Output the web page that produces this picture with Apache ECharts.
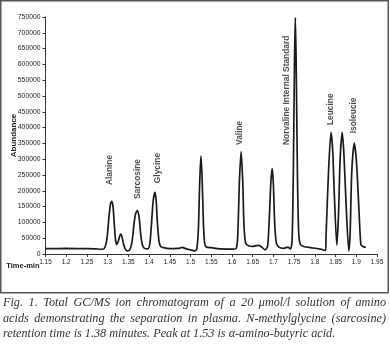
<!DOCTYPE html>
<html>
<head>
<meta charset="utf-8">
<script src="https://cdn.jsdelivr.net/npm/echarts@6/dist/echarts.min.js"></script>
<style>
html,body{margin:0;padding:0;background:#fff;}
#wrap{position:relative;width:390px;height:353px;overflow:hidden;}
#chart{position:absolute;left:0;top:0;width:390px;height:353px;}
.cap{position:absolute;left:3px;width:383px;font-family:"Liberation Serif",serif;font-style:italic;font-size:12.2px;color:#333;white-space:nowrap;line-height:15px;}
.j{text-align:justify;text-align-last:justify;white-space:normal;}
</style>
</head>
<body>
<div id="wrap">
<div id="chart"></div>
<div class="cap j" style="top:295px;">Fig. 1. Total GC/MS ion chromatogram of a 20 μmol/l solution of amino</div>
<div class="cap j" style="top:311px;">acids demonstrating the separation in plasma. N-methylglycine (sarcosine)</div>
<div class="cap" style="top:326px;">retention time is 1.38 minutes. Peak at 1.53 is α-amino-butyric acid.</div>
</div>
<script>
// Retention times (min) and abundance
const times = [1.150,1.200,1.250,1.270,1.285,1.292,1.298,1.303,1.307,1.310,1.313,1.316,1.319,1.322,1.326,1.330,1.332,1.335,1.339,1.344,1.349,1.354,1.359,1.364,1.368,1.372,1.376,1.380,1.384,1.390,1.397,1.402,1.406,1.410,1.414,1.417,1.420,1.424,1.428,1.435,1.450,1.470,1.480,1.488,1.500,1.510,1.515,1.519,1.522,1.525,1.528,1.531,1.534,1.538,1.550,1.570,1.600,1.610,1.614,1.618,1.622,1.626,1.629,1.633,1.640,1.650,1.662,1.670,1.680,1.686,1.690,1.694,1.697,1.700,1.703,1.707,1.714,1.725,1.735,1.741,1.745,1.748,1.751,1.753,1.755,1.758,1.761,1.765,1.775,1.790,1.810,1.826,1.827,1.833,1.839,1.843,1.847,1.853,1.857,1.861,1.866,1.870,1.875,1.882,1.885,1.889,1.895,1.900,1.905,1.911,1.916,1.923];
const abundance = [17000,17500,17000,16500,15000,18000,45000,115000,160000,167000,150000,95000,45000,30000,42000,60000,63000,52000,28000,13000,10000,15000,40000,100000,130000,137000,115000,60000,28000,17000,16000,35000,100000,170000,195000,170000,100000,40000,24000,20000,17000,17500,21000,17000,13000,10000,15000,80000,220000,310000,240000,100000,35000,22000,20000,16000,15500,17000,60000,230000,324000,230000,90000,35000,26000,24000,27000,24000,13000,25000,110000,230000,270000,220000,100000,35000,21000,18000,22000,16000,40000,250000,620000,748000,600000,250000,70000,30000,23000,20000,16000,11000,55000,260000,385000,330000,190000,28000,120000,300000,385000,320000,170000,9500,60000,256000,351000,300000,180000,30000,24000,21000];

// Peak annotations: name, time of label, abundance at label base
const peakNames = ["Alanine","Sarcosine","Glycine","Valine","Norvaline Internal Standard","Leucine","Isoleucie"];
const peakLabelTimes = [1.3044,1.3725,1.4203,1.618,1.7328,1.8377,1.8944];
const peakLabelValues = [218000,174000,224000,345000,345000,408000,382000];

// Axis ticks
const xMin = 1.15, xMax = 1.95, xStep = 0.05;
const yMin = 0, yMax = 750000, yStep = 50000;

const lineData = times.map((t,i)=>[t, abundance[i]]);
const labelData = peakNames.map((n,i)=>({value:[peakLabelTimes[i], peakLabelValues[i]], name:n}));

const chart = echarts.init(document.getElementById('chart'), null, {renderer:'canvas'});
chart.setOption({
  animation:false,
  backgroundColor:'#fff',
  grid:{left:45.5, right:13, top:17, bottom:99, containLabel:false, outerBoundsMode:'none'},
  xAxis:{
    type:'value', min:xMin, max:xMax, interval:xStep,
    name:'Time-min', nameLocation:'start', nameGap:0, nameMoveOverlap:false,
    nameTextStyle:{fontFamily:'Liberation Sans', fontSize:7.5, fontWeight:'bold', color:'#222', padding:[8,6,0,0], align:'right', verticalAlign:'top'},
    axisLine:{lineStyle:{color:'#333', width:1}},
    axisTick:{show:true, length:3, lineStyle:{color:'#333'}},
    axisLabel:{fontFamily:'Liberation Sans', fontSize:6.5, color:'#222', margin:5,
      formatter:v=>String(Math.round(v*100)/100)},
    splitLine:{show:false}
  },
  yAxis:{
    type:'value', min:yMin, max:yMax, interval:yStep,
    name:'Abundance', nameLocation:'middle', nameGap:27.5, nameMoveOverlap:false,
    nameTextStyle:{fontFamily:'Liberation Sans', fontSize:8, fontWeight:'bold', color:'#222'},
    axisLine:{show:true, lineStyle:{color:'#333', width:1}},
    axisTick:{show:true, length:3, lineStyle:{color:'#333'}},
    axisLabel:{fontFamily:'Liberation Sans', fontSize:6.8, color:'#222', margin:5,
      formatter:v=>String(v)},
    splitLine:{show:false}
  },
  series:[
    {type:'line', data:lineData, showSymbol:false, smooth:0.25,
     lineStyle:{color:'#1a1a1a', width:1.7}, silent:true, z:3},
    {type:'scatter', data:labelData, symbolSize:0, silent:true, z:4,
     label:{show:true, position:'inside', rotate:90, align:'left', verticalAlign:'middle',
       formatter:p=>p.name, fontFamily:'Liberation Sans', fontSize:8.4, fontWeight:'bold', color:'#1a1a1a'}}
  ],
  graphic:[
    {type:'rect', shape:{x:0.75, y:0.75, width:387.5, height:292}, style:{fill:null, stroke:'#555', lineWidth:1.5}, silent:true}
  ]
});
</script>
</body>
</html>
